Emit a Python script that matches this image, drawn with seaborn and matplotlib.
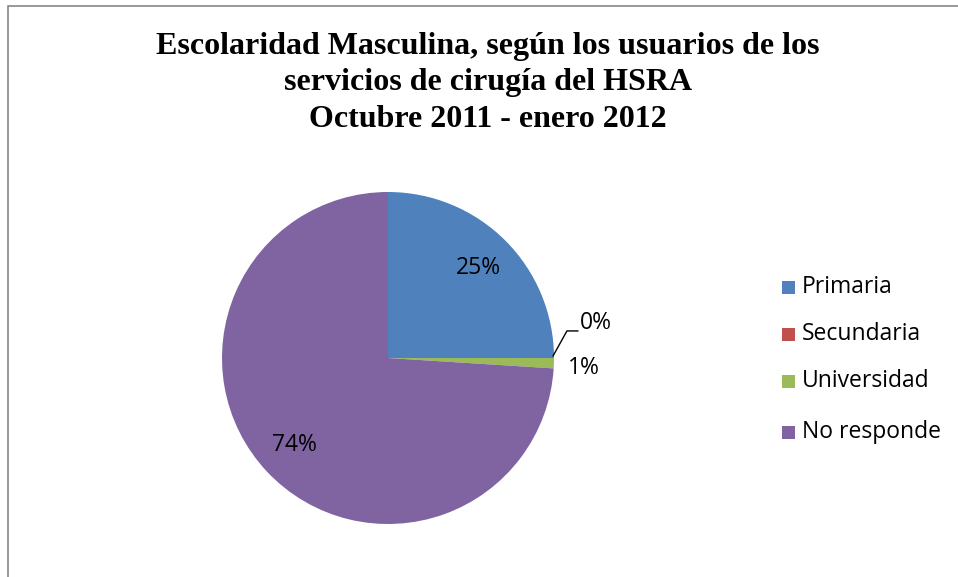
import numpy as np
import matplotlib
matplotlib.use("Agg")
import matplotlib.pyplot as plt
import seaborn as sns
from matplotlib.patches import Rectangle

categories = ["Primaria", "Secundaria", "Universidad", "No responde"]
values = [25, 0, 1, 74]
colors = ["#4F81BD", "#C0504D", "#9BBB59", "#8064A2"]

title = ("Escolaridad Masculina, según los usuarios de los\n"
         "servicios de cirugía del HSRA\n"
         "Octubre 2011 - enero 2012")

sns.set_theme(style="white")
plt.rcParams["font.family"] = ["Open Sans", "DejaVu Sans"]

W, H = 958, 577
fig = plt.figure(figsize=(W / 100, H / 100), dpi=100)

# chart frame (only top and left edges are in view)
fig.add_artist(Rectangle((8 / W, -0.1), 1.2, (H - 6) / H + 0.1,
                         transform=fig.transFigure, fill=False,
                         edgecolor="#868686", linewidth=1.2))

fig.text(488 / W, 1 - 32 / H, title, ha="center", va="top",
         family="Liberation Serif", fontweight="bold", fontsize=23,
         linespacing=1.34, color="black")

cx, cy, r = 388, 358, 166
ax = fig.add_axes([(cx - r) / W, (H - cy - r) / H, 2 * r / W, 2 * r / H])
pal = sns.color_palette(colors)
wedges, _ = ax.pie(values, colors=pal, startangle=90, counterclock=False,
                   radius=1, wedgeprops=dict(linewidth=0))
ax.set_xlim(-1, 1)
ax.set_ylim(-1, 1)
ax.set_aspect("equal")
ax.axis("off")

total = sum(values)
labels = [f"{v / total * 100:.0f}%" for v in values]
fs = 16.5

# inside labels for the big slices
for w, lab, v in zip(wedges, labels, values):
    if v / total < 0.05:
        continue
    ang = np.deg2rad((w.theta1 + w.theta2) / 2)
    ax.text(0.77 * np.cos(ang), 0.77 * np.sin(ang), lab, ha="center",
            va="center", fontsize=fs, color="black")

# small slices outside
ax.text(1.18, -0.06, labels[2], ha="center", va="center", fontsize=fs,
        color="black", clip_on=False)
ax.plot([0.994, 1.078, 1.145], [0.012, 0.163, 0.163], color="black",
        linewidth=1, clip_on=False)
ax.text(1.155, 0.21, labels[1], ha="left", va="center", fontsize=fs,
        color="black", clip_on=False)

# legend
ly = [287, 334, 381, 432]
for c, lab, y in zip(pal, categories, ly):
    fig.add_artist(Rectangle((782 / W, 1 - (y + 7) / H), 13 / W, 13 / H,
                             transform=fig.transFigure, facecolor=c,
                             edgecolor="none"))
    fig.text(802 / W, 1 - y / H, lab, ha="left", va="center", fontsize=fs,
             color="black")

fig.savefig("out.png", dpi=100)
